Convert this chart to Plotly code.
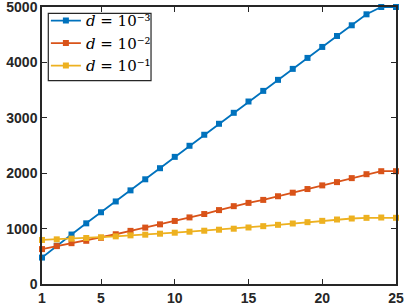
import plotly.graph_objects as go

x = list(range(1, 26))
blue = [477, 690, 893, 1095, 1295, 1490, 1690, 1890, 2090, 2295, 2495, 2694,
        2892, 3090, 3294, 3486, 3685, 3883, 4081, 4279, 4477, 4670, 4868, 5000, 5000]
red = [630, 684, 737, 780, 834, 898, 959, 1018, 1077, 1138, 1202, 1263,
       1334, 1405, 1464, 1518, 1584, 1648, 1714, 1780, 1839, 1911, 1982, 2036, 2036]
yellow = [795, 806, 818, 830, 842, 860, 878, 890, 908, 926, 944, 962,
          980, 998, 1020, 1044, 1068, 1092, 1116, 1140, 1164, 1182, 1194, 1200, 1195]
names = ["<i>d</i> = 10⁻³", "<i>d</i> = 10⁻²", "<i>d</i> = 10⁻¹"]
colors = ["#0072BD", "#D95319", "#EDB120"]
x_ticks = [1, 5, 10, 15, 20, 25]
y_ticks = [0, 1000, 2000, 3000, 4000, 5000]

fig = go.Figure()
for ys, nm, c in zip([blue, red, yellow], names, colors):
    fig.add_trace(go.Scatter(
        x=x, y=ys, name=nm, mode="lines+markers",
        line=dict(color=c, width=1.8),
        marker=dict(symbol="square", size=6, color=c),
        cliponaxis=False,
    ))

axis_common = dict(
    showline=True, linecolor="#262626", linewidth=1.5, mirror="ticks",
    ticks="inside", ticklen=5, tickcolor="#262626", tickwidth=1.2,
    showgrid=False, zeroline=False, ticklabeloverflow="allow",
    tickfont=dict(family="Liberation Sans, Arial", size=14, color="#262626"),
)

# legend frame (white box with dark border)
fig.add_shape(type="rect", xref="paper", yref="paper",
              x0=0.0178, x1=0.308, y0=0.734, y1=0.977,
              fillcolor="white", line=dict(color="#262626", width=1.2), layer="below")

fig.update_layout(
    width=405, height=308,
    margin=dict(l=42, r=9, t=7, b=24, autoexpand=False),
    paper_bgcolor="white", plot_bgcolor="white",
    xaxis=dict(range=[1, 25], tickvals=x_ticks, ticktext=[f"<b>{v}</b>" for v in x_ticks], **axis_common),
    yaxis=dict(range=[0, 5000], tickvals=y_ticks, ticktext=[f"<b>{v}</b>" for v in y_ticks], **axis_common),
    legend=dict(
        x=0.011, y=1.0097, xanchor="left", yanchor="top",
        bgcolor="rgba(0,0,0,0)", borderwidth=0,
        font=dict(family="DejaVu Serif", size=15, color="black"),
        itemwidth=30, tracegroupgap=0,
    ),
    showlegend=True,
)

fig.write_html("out.html", config={"displayModeBar": False},
               post_script="document.body.style.margin='0';")
